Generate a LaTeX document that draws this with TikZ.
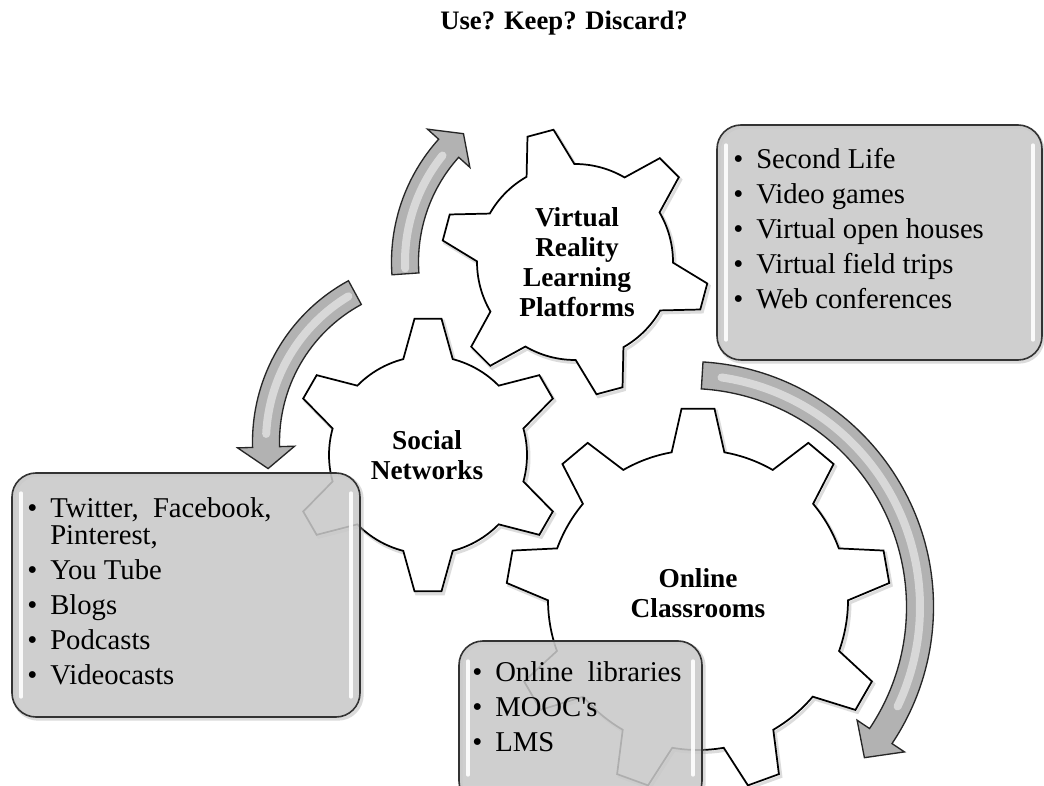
\documentclass[tikz,border=0pt]{standalone}
\usepackage{fontspec}
\setmainfont{Liberation Serif}[Ligatures=TeXOff]
\usetikzlibrary{calc}
\tikzset{
  gearshape/.style={fill=white, draw=black, line width=1.3pt, line join=miter},
  gearshadow/.style={draw=black!30, line width=2.2pt, opacity=0.45},
  listbox/.style={fill=black!21, fill opacity=0.87, draw=black!80, line width=1.2pt, rounded corners=18pt},
  boxshadow/.style={draw=black!35, line width=2.5pt, opacity=0.4, rounded corners=18pt},
  boxshine/.style={draw=white, line width=2.5pt, line cap=round, opacity=0.9},
  arrowshape/.style={fill=black!30, draw=black!85, line width=1pt, line join=miter},
  arrowshine/.style={draw=white, line width=6pt, opacity=0.5, line cap=round},
  geartext/.style={font=\bfseries\fontsize{20.5}{22.5}\selectfont, align=center, inner sep=0pt},
  listtext/.style={font=\fontsize{21.5}{26.25}\selectfont, anchor=north west, inner sep=0pt},
  titletext/.style={font=\bfseries\fontsize{20}{24}\selectfont, inner sep=0pt}
}
% #1 cx #2 cy #3 n #4 rroot #5 rtip #6 offset #7 base half width #8 tip half width #9 style
\newcommand\drawgear[9]{%
  \pgfmathsetmacro\gstep{360/#3}%
  \pgfmathsetmacro\gb{#7/#4*180/pi}%
  \pgfmathsetmacro\gt{#8/#5*180/pi}%
  \pgfmathtruncatemacro\gn{#3-1}%
  \pgfmathsetmacro\gs{#6-\gb}%
  \draw[#9] ([shift={(#1,#2)}]\gs:#4)
    \foreach \k in {0,...,\gn}{
      -- ([shift={(#1,#2)}]{#6+\k*\gstep-\gt}:#5)
      -- ([shift={(#1,#2)}]{#6+\k*\gstep+\gt}:#5)
      -- ([shift={(#1,#2)}]{#6+\k*\gstep+\gb}:#4)
      arc[start angle={#6+\k*\gstep+\gb}, end angle={#6+(\k+1)*\gstep-\gb}, radius=#4]
    } -- cycle;
}
% #1 cx #2 cy #3 r #4 a1 #5 a2 #6 atip
\newcommand\drawcircarrow[6]{%
  \pgfmathsetmacro\ro{#3+13.5}\pgfmathsetmacro\ri{#3-13.5}%
  \pgfmathsetmacro\Ro{#3+28.5}\pgfmathsetmacro\Ri{#3-28.5}%
  \pgfmathsetmacro\sa{#4+0.04*(#5-#4)}\pgfmathsetmacro\sb{#4+0.93*(#5-#4)}%
  \draw[arrowshape] ([shift={(#1,#2)}]#4:\ro) arc[start angle=#4, end angle=#5, radius=\ro]
    -- ([shift={(#1,#2)}]#5:\Ro) -- ([shift={(#1,#2)}]#6:#3) -- ([shift={(#1,#2)}]#5:\Ri)
    -- ([shift={(#1,#2)}]#5:\ri) arc[start angle=#5, end angle=#4, radius=\ri] -- cycle;
  \draw[arrowshine] ([shift={(#1,#2)}]\sa:#3) arc[start angle=\sa, end angle=\sb, radius=#3];
}
\begin{document}
\begin{tikzpicture}[x=0.75pt,y=0.75pt]
\useasboundingbox (0,0) rectangle (1044,785);
\fill[white] (0,0) rectangle (1044,785);

% title
\node[titletext] (title) at (564,762) {Use? Keep? Discard?};

% gear shadows
\begin{scope}[shift={(2,-2.5)}]
\drawgear{575}{523}{6}{98}{134}{45}{25}{13.5}{gearshadow}
\drawgear{428}{330}{6}{99}{137}{30}{25}{13.5}{gearshadow}
\drawgear{698}{185}{9}{150}{192}{90}{26.5}{16.5}{gearshadow}
\end{scope}
% gears
\drawgear{575}{523}{6}{98}{134}{45}{25}{13.5}{gearshape}
\drawgear{428}{330}{6}{99}{137}{30}{25}{13.5}{gearshape}
\drawgear{698}{185}{9}{150}{192}{90}{26.5}{16.5}{gearshape}

% circular arrows
\drawcircarrow{575}{523}{170}{184}{138}{131}
\drawcircarrow{436}{343}{170}{118.5}{181.7}{189}
\drawcircarrow{688}{178}{232}{86.5}{-33.8}{-40.5}

% list boxes
\draw[boxshadow] (719,423) rectangle (1043,658);
\draw[listbox] (717,425) rectangle (1042,660);
\draw[boxshine] (726,445) -- (726,640);
\draw[boxshine] (1033,445) -- (1033,640);
\draw[boxshadow] (14,66) rectangle (362,310);
\draw[listbox] (12,68) rectangle (360,312);
\draw[boxshine] (21,88) -- (21,292);
\draw[boxshine] (351,88) -- (351,292);
\draw[boxshadow] (461,-22) rectangle (704,142);
\draw[listbox] (459,-20) rectangle (702,144);
\draw[boxshine] (468,10) -- (468,124);
\draw[boxshine] (693,10) -- (693,124);

% gear labels
\node[geartext] (vrt) at (577,523) {Virtual\\Reality\\Learning\\Platforms};
\node[geartext] (snt) at (427,330) {Social\\Networks};
\node[geartext] (oct) at (698,192) {Online\\Classrooms};

% lists
\node[listtext] (vrl) at (733,641) {\begin{tabular}{@{}l@{\hspace{9.75pt}}l@{}}
•&Second Life\\
•&Video games\\
•&Virtual open houses\\
•&Virtual field trips\\
•&Web conferences
\end{tabular}};
\node[listtext] (snl) at (27,292) {\begin{tabular}{@{}l@{\hspace{9.75pt}}l@{}}
•&Twitter,\ \ Facebook,\\[-6pt]
&Pinterest,\\
•&You Tube\\
•&Blogs\\
•&Podcasts\\
•&Videocasts
\end{tabular}};
\node[listtext] (ocl) at (472,128.5) {\begin{tabular}{@{}l@{\hspace{9.75pt}}l@{}}
•&Online\ \ libraries\\
•&MOOC's\\
•&LMS
\end{tabular}};
\end{tikzpicture}
\end{document}
